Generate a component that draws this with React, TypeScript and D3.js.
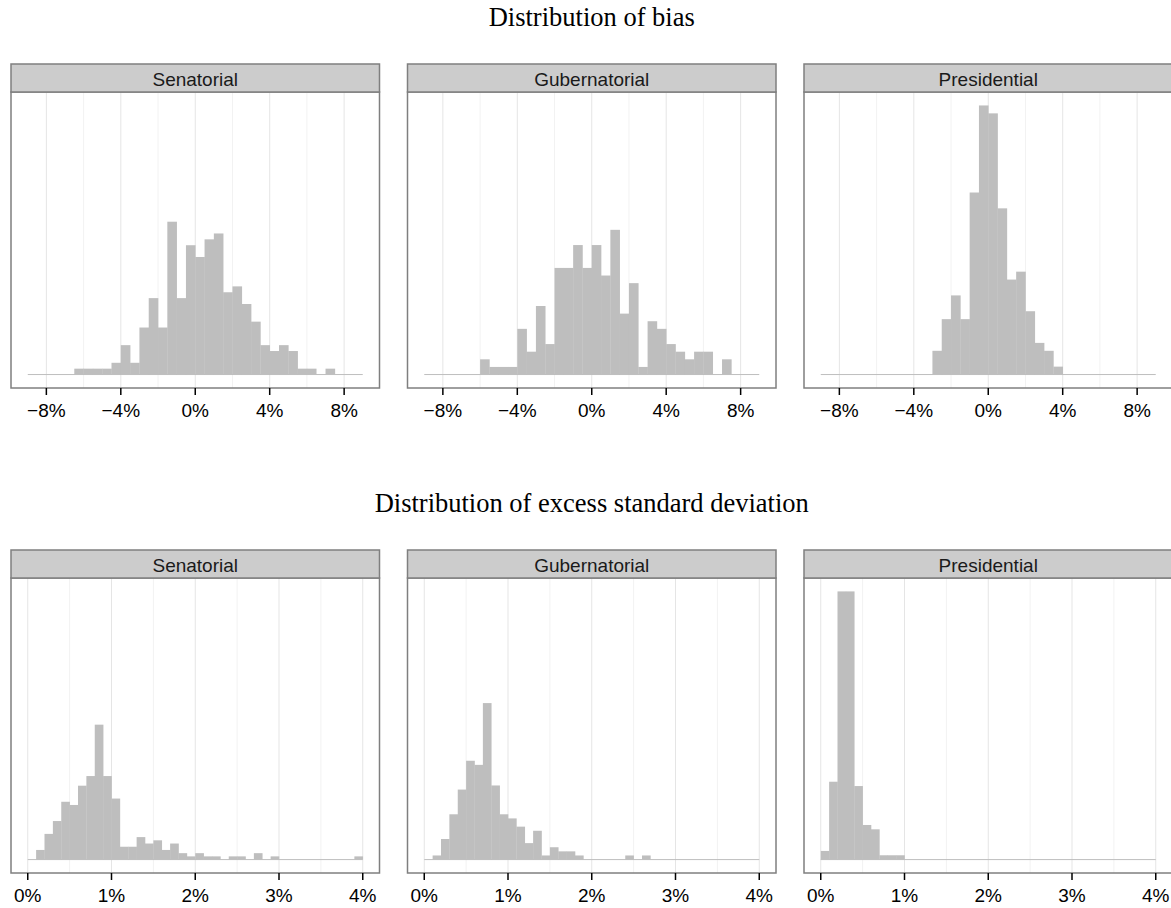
import React from "react";
import * as d3 from "d3";

// ---- Data ----
const panelNames = ["Senatorial", "Gubernatorial", "Presidential"];

// Bias histogram: bins of 0.5 (%) from -9 to 9 (counts)
const biasBinStart = -9;
const biasBinWidth = 0.5;
const biasSenatorial = [0, 0, 0, 0, 0, 1, 1, 1, 1, 2, 5, 2, 8, 13, 8, 26, 13, 22, 20, 23, 24, 14, 15, 12, 9, 5, 4, 5, 4, 1, 1, 0, 1, 0, 0, 0];
const biasGubernatorial = [0, 0, 0, 0, 0, 0, 2, 1, 1, 1, 6, 3, 9, 4, 14, 14, 17, 14, 17, 13, 19, 8, 12, 1, 7, 6, 4, 3, 2, 3, 3, 0, 2, 0, 0, 0];
const biasPresidential = [0, 0, 0, 0, 0, 0, 0, 0, 0, 0, 0, 0, 3, 7, 10, 7, 23, 34, 33, 21, 12, 13, 8, 4, 3, 1, 0, 0, 0, 0, 0, 0, 0, 0, 0, 0];
const biasTicks = [-8, -4, 0, 4, 8];
const biasMinor = [-6, -2, 2, 6];

// Excess SD histogram: bins of 0.1 (%) from 0 to 4 (counts)
const sdBinStart = 0;
const sdBinWidth = 0.1;
const sdSenatorial = [0, 3, 8, 12, 18, 17, 23, 26, 42, 26, 19, 4, 4, 7, 5, 6, 3, 5, 2, 1, 2, 1, 1, 0, 1, 1, 0, 2, 0, 1, 0, 0, 0, 0, 0, 0, 0, 0, 0, 1];
const sdGubernatorial = [0, 1, 5, 11, 17, 24, 23, 38, 18, 11, 10, 8, 4, 7, 1, 3, 2, 2, 1, 0, 0, 0, 0, 0, 1, 0, 1, 0, 0, 0, 0, 0, 0, 0, 0, 0, 0, 0, 0, 0];
const sdPresidential = [2, 18, 62, 62, 17, 8, 7, 1, 1, 1, 0, 0, 0, 0, 0, 0, 0, 0, 0, 0, 0, 0, 0, 0, 0, 0, 0, 0, 0, 0, 0, 0, 0, 0, 0, 0, 0, 0, 0, 0];
const sdTicks = [0, 1, 2, 3, 4];
const sdMinor = [0.5, 1.5, 2.5, 3.5];

const titles = ["Distribution of bias", "Distribution of excess standard deviation"];

// ---- Layout ----
const W = 1171;
const H = 908;
const panelX0 = 11;
const panelPitch = 396.5;
const panelW = 368.5;

type Row = {
  title: string;
  titleY: number;
  stripTop: number;
  panelTop: number;
  panelBottom: number;
  binStart: number;
  binWidth: number;
  series: number[][];
  ticks: number[];
  minor: number[];
  dataMin: number;
  dataMax: number;
};

const rows: Row[] = [
  {
    title: titles[0],
    titleY: 26,
    stripTop: 64,
    panelTop: 92,
    panelBottom: 388,
    binStart: biasBinStart,
    binWidth: biasBinWidth,
    series: [biasSenatorial, biasGubernatorial, biasPresidential],
    ticks: biasTicks,
    minor: biasMinor,
    dataMin: -9,
    dataMax: 9,
  },
  {
    title: titles[1],
    titleY: 512,
    stripTop: 550,
    panelTop: 578,
    panelBottom: 873,
    binStart: sdBinStart,
    binWidth: sdBinWidth,
    series: [sdSenatorial, sdGubernatorial, sdPresidential],
    ticks: sdTicks,
    minor: sdMinor,
    dataMin: 0,
    dataMax: 4,
  },
];

const fmt = (v: number) => (v < 0 ? "\u2212" + Math.abs(v) : String(v)) + "%";

function RowView({ row }: { row: Row }) {
  const densities = row.series.map((s) => {
    const n = d3.sum(s);
    return s.map((c) => c / (n * row.binWidth));
  });
  const maxD = d3.max(densities.map((d) => d3.max(d) as number)) as number;
  const span = row.dataMax - row.dataMin;
  const y = d3
    .scaleLinear()
    .domain([-0.05 * maxD, 1.05 * maxD])
    .range([row.panelBottom, row.panelTop]);
  const sans = "'Liberation Sans', Arial, Helvetica, sans-serif";
  return (
    <g>
      <text
        x={panelX0 + (2 * panelPitch + panelW) / 2}
        y={row.titleY}
        textAnchor="middle"
        fontFamily="'Liberation Serif', 'Times New Roman', serif"
        fontSize={26.5}
        fill="#000"
      >
        {row.title}
      </text>
      {panelNames.map((name, pi) => {
        const left = panelX0 + pi * panelPitch;
        const x = d3
          .scaleLinear()
          .domain([row.dataMin - 0.05 * span, row.dataMax + 0.05 * span])
          .range([left, left + panelW]);
        const dens = densities[pi];
        return (
          <g key={name}>
            {/* panel background */}
            <rect x={left} y={row.panelTop} width={panelW} height={row.panelBottom - row.panelTop} fill="#fff" />
            {/* minor grid */}
            {row.minor.map((m) => (
              <line key={"m" + m} x1={x(m)} x2={x(m)} y1={row.panelTop} y2={row.panelBottom} stroke="#F2F2F2" strokeWidth={1} />
            ))}
            {/* major grid */}
            {row.ticks.map((t) => (
              <line key={"g" + t} x1={x(t)} x2={x(t)} y1={row.panelTop} y2={row.panelBottom} stroke="#E5E5E5" strokeWidth={1} />
            ))}
            {/* baseline of empty bins */}
            <line x1={x(row.dataMin)} x2={x(row.dataMax)} y1={y(0)} y2={y(0)} stroke="#BEBEBE" strokeWidth={1} />
            {/* bars */}
            {dens.map((dv, i) => {
              if (dv <= 0) return null;
              const x0 = x(row.binStart + i * row.binWidth);
              const x1 = x(row.binStart + (i + 1) * row.binWidth);
              return <rect key={i} x={x0} y={y(dv)} width={x1 - x0 + 0.3} height={y(0) - y(dv)} fill="#BEBEBE" />;
            })}
            {/* panel border */}
            <rect x={left} y={row.panelTop} width={panelW} height={row.panelBottom - row.panelTop} fill="none" stroke="#7F7F7F" strokeWidth={1.5} />
            {/* strip */}
            <rect x={left} y={row.stripTop} width={panelW} height={row.panelTop - row.stripTop} fill="#CCCCCC" stroke="#7F7F7F" strokeWidth={1.5} />
            <text x={left + panelW / 2} y={row.stripTop + 22} textAnchor="middle" fontFamily={sans} fontSize={19} fill="#1a1a1a">
              {name}
            </text>
            {/* ticks */}
            {row.ticks.map((t) => (
              <g key={"t" + t}>
                <line x1={x(t)} x2={x(t)} y1={row.panelBottom} y2={row.panelBottom + 7} stroke="#000" strokeWidth={1.5} />
                <text x={x(t)} y={row.panelBottom + 29} textAnchor="middle" fontFamily={sans} fontSize={19} fill="#000">
                  {fmt(t)}
                </text>
              </g>
            ))}
          </g>
        );
      })}
    </g>
  );
}

export default function App() {
  return (
    <svg
      width={W}
      height={H}
      viewBox={`0 0 ${W} ${H}`}
      style={{ position: "absolute", left: 0, top: 0, background: "#fff" }}
    >
      <rect x={0} y={0} width={W} height={H} fill="#fff" />
      {rows.map((r) => (
        <RowView key={r.title} row={r} />
      ))}
    </svg>
  );
}
